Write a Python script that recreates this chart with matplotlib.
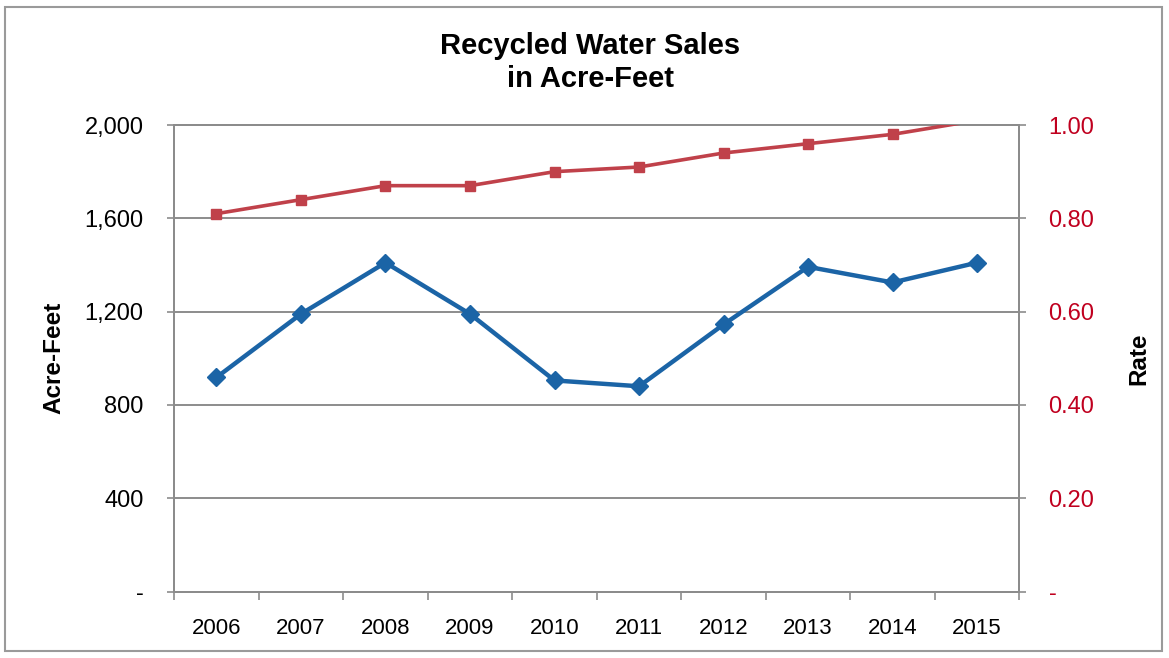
import numpy as np
import matplotlib.pyplot as plt
from matplotlib.patches import Rectangle
from matplotlib.ticker import FuncFormatter

plt.rcParams['font.family'] = ['Liberation Sans', 'DejaVu Sans']

# Datos
years = ['2006', '2007', '2008', '2009', '2010', '2011', '2012', '2013', '2014', '2015']
acre_feet = [918, 1190, 1410, 1190, 905, 880, 1145, 1392, 1325, 1410]
rate = [0.81, 0.84, 0.87, 0.87, 0.90, 0.91, 0.94, 0.96, 0.98, 1.01]

left_ticks = [0, 400, 800, 1200, 1600, 2000]
right_ticks = [0, 0.2, 0.4, 0.6, 0.8, 1.0]

blue = '#1B64A6'
red = '#C0414A'
red_txt = '#C0001F'
grey = '#8C8C8C'

fig = plt.figure(figsize=(11.69, 6.58), dpi=100)
ax = fig.add_axes([0.149, 0.101, 0.723, 0.709])
ax2 = ax.twinx()

x = list(range(len(years)))

# Serie de acre-pies (eje izquierdo)
ax.plot(x, acre_feet, color=blue, lw=3.2, marker='D', ms=9, zorder=3)
ax.set_ylim(0, 2000)
ax.set_yticks(left_ticks)
ax.yaxis.set_major_formatter(FuncFormatter(lambda v, p: '-' if v == 0 else f'{int(v):,}'))
ax.set_xlim(-0.5, 9.5)
ax.set_xticks(x)
ax.set_xticklabels(years)
ax.set_xticks([i - 0.5 for i in range(len(years) + 1)], minor=True)
ax.tick_params(axis='x', which='major', length=0, labelsize=16, pad=19)
ax.tick_params(axis='x', which='minor', length=6, color=grey, width=1.2)
ax.tick_params(axis='y', length=5, color=grey, width=1.2, labelsize=17, pad=17)
ax.grid(axis='y', color=grey, lw=1.4)
ax.set_axisbelow(True)
ax.set_ylabel('Acre-Feet', fontsize=17.5, fontweight='bold', labelpad=14)

# Serie de tasa (eje derecho) - como en Excel, sin marcador fuera del rango
ax2.set_ylim(0, 1.0)
ax2.plot(x, rate, color=red, lw=2.6, zorder=3)
rate_in = np.ma.masked_greater(np.array(rate), 1.0)
ax2.plot(x, rate_in, color=red, lw=0, marker='s', ms=7, zorder=4)
ax2.set_yticks(right_ticks)
ax2.yaxis.set_major_formatter(FuncFormatter(lambda v, p: '-' if v == 0 else f'{v:.2f}'))
ax2.tick_params(axis='y', length=5, color=grey, width=1.2, labelsize=17,
                labelcolor=red_txt, pad=16)
ax2.set_ylabel('Rate', fontsize=17.5, fontweight='bold', labelpad=24)

for a in (ax, ax2):
    for s in a.spines.values():
        s.set_color(grey)
        s.set_linewidth(1.4)

fig.text(0.505, 0.905, 'Recycled Water Sales\nin Acre-Feet', ha='center', va='center',
         fontsize=21, fontweight='bold', linespacing=1.2)

# Marco exterior
fig.patches.append(Rectangle((0.004, 0.01), 0.99, 0.98, transform=fig.transFigure,
                             fill=False, edgecolor='#9A9A9A', lw=1.5))

fig.savefig('out.png', dpi=100)
